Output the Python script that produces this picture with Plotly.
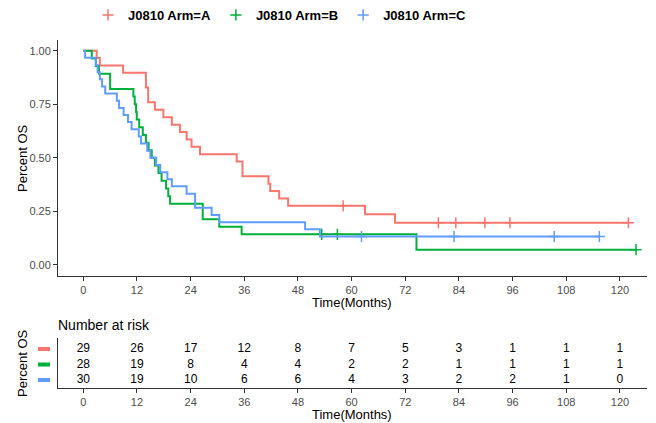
import numpy as np
import plotly.graph_objects as go

# ---------------- data ----------------
arms = ["J0810 Arm=A", "J0810 Arm=B", "J0810 Arm=C"]
colors = ["#F8766D", "#00B03A", "#619CFF"]

a_time = [0, 3.0, 3.7, 8.9, 14.0, 14.5, 16.0, 17.9, 19.8, 21.6, 23.1, 24.2, 26.1,
          34.3, 35.6, 41.4, 41.8, 43.8, 45.8, 63.0, 69.7, 121.9]
a_surv = [1, 0.966, 0.931, 0.897, 0.828, 0.759, 0.724, 0.690, 0.655, 0.621, 0.586,
          0.552, 0.517, 0.483, 0.414, 0.379, 0.345, 0.310, 0.276, 0.237, 0.197, 0.197]
a_cens = [58.1, 79.4, 83.3, 89.8, 95.4, 121.9]

b_time = [0, 1.9, 2.8, 3.5, 6.0, 11.2, 11.5, 11.8, 11.95, 12.5, 13.3, 14.0, 14.6,
          15.3, 16.0, 16.8, 17.5, 18.5, 19.0, 19.4, 26.7, 30.4, 35.4, 74.5, 123.6]
b_surv = [1, 0.964, 0.929, 0.893, 0.821, 0.786, 0.750, 0.714, 0.679, 0.643, 0.607,
          0.571, 0.536, 0.500, 0.464, 0.429, 0.393, 0.357, 0.321, 0.286, 0.214,
          0.179, 0.143, 0.0714, 0.0714]
b_cens = [53.3, 56.8, 123.6]

c_time = [0, 0.4, 2.8, 3.2, 3.7, 4.2, 4.9, 7.5, 8.0, 9.0, 10.0, 10.8, 12.4, 12.9,
          14.3, 15.0, 16.3, 17.2, 18.8, 19.8, 23.1, 25.0, 28.7, 30.4, 49.6, 52.9, 115.4]
c_surv = [1, 0.967, 0.933, 0.900, 0.867, 0.833, 0.800, 0.767, 0.733, 0.700, 0.667,
          0.633, 0.600, 0.567, 0.533, 0.500, 0.467, 0.433, 0.400, 0.367, 0.333,
          0.267, 0.233, 0.200, 0.167, 0.133, 0.133]
c_cens = [62.2, 82.9, 105.3, 115.4]

risk_times = [0, 12, 24, 36, 48, 60, 72, 84, 96, 108, 120]
risk_a = [29, 26, 17, 12, 8, 7, 5, 3, 1, 1, 1]
risk_b = [28, 19, 8, 4, 4, 2, 2, 1, 1, 1, 1]
risk_c = [30, 19, 10, 6, 6, 4, 3, 2, 2, 1, 0]

x_ticks = [0, 12, 24, 36, 48, 60, 72, 84, 96, 108, 120]
y_ticks = [0, 0.25, 0.5, 0.75, 1.0]

# ---------------- figure ----------------
FONT = "Liberation Sans, Arial, sans-serif"
W, H = 656, 423
L, R, T, B = 58, 9, 40, 35
PW, PH = W - L - R, H - T - B


def px_x(p):
    return (p - L) / PW


def px_y(p):
    return (H - B - p) / PH


fig = go.Figure()

curves = [(a_time, a_surv, a_cens), (b_time, b_surv, b_cens), (c_time, c_surv, c_cens)]
for (t, s, cens), name, col in zip(curves, arms, colors):
    fig.add_trace(go.Scatter(x=t, y=s, mode="lines", line=dict(color=col, width=2, shape="hv"),
                             showlegend=False, hoverinfo="skip", xaxis="x", yaxis="y"))
    t_arr = np.array(t)
    s_arr = np.array(s)
    idx = np.searchsorted(t_arr, np.array(cens), side="right") - 1
    fig.add_trace(go.Scatter(x=cens, y=s_arr[idx], mode="markers", name=name,
                             marker=dict(symbol="cross-thin", size=8, color=col,
                                         line=dict(color=col, width=1.5)),
                             xaxis="x", yaxis="y"))

rows = [3, 2, 1]
for risk, row in zip([risk_a, risk_b, risk_c], rows):
    fig.add_trace(go.Scatter(x=risk_times, y=[row] * len(risk_times), mode="text",
                             text=[str(v) for v in risk], textposition="middle center",
                             textfont=dict(family=FONT, size=12, color="#000000"),
                             showlegend=False, hoverinfo="skip", xaxis="x2", yaxis="y2"))

axis_common = dict(showline=True, linecolor="#333333", linewidth=1,
                   ticklen=4, tickcolor="#333333", showgrid=False, zeroline=False,
                   automargin=False,
                   tickfont=dict(family=FONT, size=11, color="#4D4D4D"))

xr = [-5.66, 126.05]
main_bottom = px_y(275.7)
table_top = px_y(338)

fig.update_layout(
    width=W, height=H, margin=dict(l=L, r=R, t=T, b=B, autoexpand=False),
    paper_bgcolor="white", plot_bgcolor="white",
    font=dict(family=FONT, color="#000000"),
    xaxis=dict(domain=[0, 1], range=xr, tickvals=x_ticks, anchor="y", ticks="outside",
               **axis_common),
    yaxis=dict(domain=[main_bottom, 1], range=[-0.05, 1.05], tickvals=y_ticks,
               tickformat=".2f", anchor="x", ticks="outside", **axis_common),
    xaxis2=dict(domain=[0, 1], range=xr, tickvals=x_ticks, anchor="y2", ticks="outside",
                **axis_common),
    yaxis2=dict(domain=[0, table_top], range=[0.484, 3.71], tickvals=rows,
                showticklabels=False, anchor="x2", ticks="", **axis_common),
    legend=dict(orientation="h", x=px_x(280), xanchor="center", y=px_y(15), yanchor="middle",
                font=dict(family=FONT, size=13, color="#000000", weight="bold"),
                itemwidth=30, bgcolor="rgba(0,0,0,0)"),
)

ann_font = dict(family=FONT, size=13, color="#000000")
annotations = [
    dict(text="Percent OS", x=px_x(22), y=px_y(158), textangle=-90),
    dict(text="Time(Months)", x=px_x(352), y=px_y(302)),
    dict(text="Percent OS", x=px_x(22), y=px_y(363), textangle=-90),
    dict(text="Time(Months)", x=px_x(352), y=px_y(414)),
]
for a in annotations:
    fig.add_annotation(xref="paper", yref="paper", showarrow=False, font=ann_font,
                       xanchor="center", yanchor="middle", **a)
fig.add_annotation(text="Number at risk", xref="paper", yref="paper", x=px_x(56), y=px_y(325),
                   xanchor="left", yanchor="middle", showarrow=False,
                   font=dict(family=FONT, size=14, color="#000000"))

# colored keys for the risk table rows
for row, col in zip(rows, colors):
    fig.add_shape(type="rect", xref="paper", yref="y2", x0=px_x(38), x1=px_x(50),
                  y0=row - 0.13, y1=row + 0.13, fillcolor=col, line=dict(width=0))

fig.write_html("out.html", config={"displayModeBar": False},
               post_script="document.body.style.margin='0';document.body.style.overflow='hidden';")
